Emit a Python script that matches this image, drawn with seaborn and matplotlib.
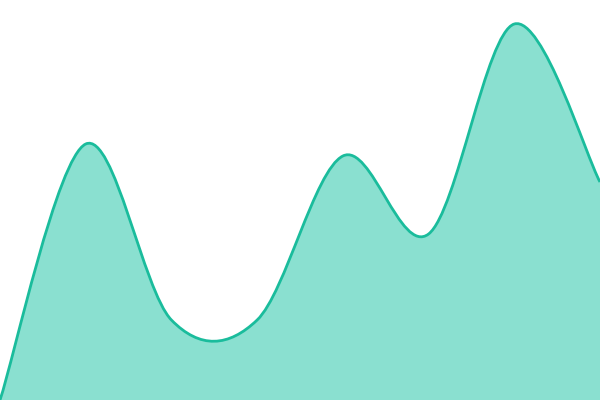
import numpy as np
import matplotlib
matplotlib.use("Agg")
import matplotlib.pyplot as plt
from matplotlib.path import Path
from matplotlib.patches import PathPatch
import seaborn as sns

# values (evenly spaced points, 0-100 scale)
steps = [0, 1, 2, 3, 4, 5, 6, 7]
values = [0, 64, 20, 20, 61, 41.5, 94, 54.5]

line_color = "#1abc9c"
fill_color = "#8ae0d0"

sns.set_theme(style="white")


def smooth_path(xs, ys, close_to=None):
    # catmull-rom curve as cubic bezier segments (end points doubled)
    pts = np.column_stack([xs, ys]).astype(float)
    padded = np.vstack([pts[:1], pts, pts[-1:]])
    verts = [tuple(pts[0])]
    codes = [Path.MOVETO]
    for i in range(1, len(padded) - 2):
        p0, p1, p2, p3 = padded[i - 1], padded[i], padded[i + 1], padded[i + 2]
        c1 = p1 + (p2 - p0) / 6
        c2 = p2 - (p3 - p1) / 6
        verts += [tuple(c1), tuple(c2), tuple(p2)]
        codes += [Path.CURVE4] * 3
    if close_to is not None:
        verts += [(xs[-1], close_to), (xs[0], close_to), tuple(pts[0])]
        codes += [Path.LINETO, Path.LINETO, Path.CLOSEPOLY]
    return Path(verts, codes)


fig = plt.figure(figsize=(6, 4), dpi=100)
ax = fig.add_axes([0, 0, 1, 1])

area = PathPatch(smooth_path(steps, values, close_to=0), facecolor=fill_color,
                 edgecolor="none")
ax.add_patch(area)
line = PathPatch(smooth_path(steps, values), facecolor="none",
                 edgecolor=line_color, linewidth=2.0, joinstyle="round")
ax.add_patch(line)

ax.set_xlim(steps[0], steps[-1])
ax.set_ylim(0, 100)
ax.axis("off")
sns.despine(left=True, bottom=True)

fig.savefig("out.png", dpi=100)
